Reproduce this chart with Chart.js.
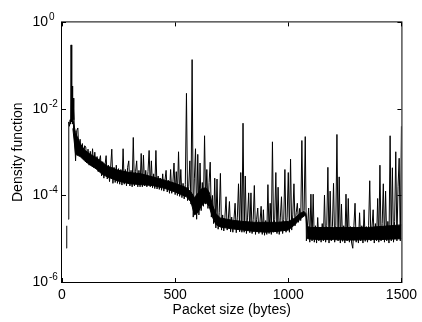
<!DOCTYPE html>
<html>
<head>
<meta charset="utf-8">
<script src="https://cdn.jsdelivr.net/npm/chart.js@4.4.1/dist/chart.umd.min.js"></script>
<style>
    html, body { margin: 0; padding: 0; background: #fff; }
    #wrap { width: 422px; height: 322px; }
</style>
</head>
<body>
<div id="wrap"><canvas id="densityChart"></canvas></div>
<script>
// packet sizes (bytes): hand-read points at the start, then every 5 bytes
const sizeHead = [20, 21, 24, 28, 30, 33, 36, 38, 40, 43, 45, 47, 49, 51, 53];
const sizeStep = 5;
const sizeFirst = 55;
const sizeLast = 1500;

// log10 of the density (null = empty bin)
const densityLog = [
    -5.22, -4.7, null, -4.55, -2.3, -2.4, -2.25, -2.35, -0.52, -2.3, -1.47, -2.35, -1.75, -2.25, -2.0,
    // 55 - 100
    -2.55, -3.2, -2.5, -2.44, -3.05, -2.7, -3.1, -2.8, -3.15, -2.85,
    -2.88, -3.25, -2.93, -3.3, -2.98, -3.3, -2.92, -3.35, -3.0, -3.38,
    -3.1, -3.45, -3.2, -3.08, -3.55, -3.22, -3.6, -3.3, -3.08, -3.62,
    -3.3, -3.68, -3.35, -2.93, -3.72, -3.35, -3.7, -3.3, -3.72, -3.38,
    -3.74, -3.4, -3.76, -2.92, -3.74, -3.4, -3.78, -3.35, -3.2, -3.78,
    // 305 - 350
    -3.42, -3.8, -2.66, -3.78, -3.45, -3.2, -3.8, -3.42, -3.8, -3.03,
    -3.8, -3.07, -3.78, -3.42, -3.8, -3.45, -2.96, -3.8, -3.2, -3.82,
    -3.5, -3.84, -2.96, -3.85, -3.55, -3.86, -3.6, -3.88, -3.5, -3.9,
    -3.65, -3.42, -3.92, -3.65, -3.95, -3.4, -3.95, -3.7, -3.25, -3.98,
    -3.45, -4.0, -2.99, -4.02, -3.4, -4.05, -3.72, -4.08, -3.75, -1.64,
    // 555 - 600
    -4.12, -3.8, -3.2, -4.2, -0.86, -4.5, -3.6, -2.92, -4.55, -3.05,
    -4.45, -3.25, -4.35, -3.7, -4.25, -2.62, -4.2, -3.4, -4.3, -3.7,
    -3.23, -4.5, -4.0, -4.65, -3.6, -4.75, -3.62, -4.78, -4.4, -3.49,
    -4.8, -4.45, -4.82, -4.5, -4.03, -4.8, -4.55, -4.14, -4.84, -4.5,
    -4.85, -4.55, -4.18, -4.86, -4.5, -3.73, -4.84, -3.47, -4.85, -2.33,
    // 805 - 850
    -4.85, -3.55, -4.88, -4.5, -3.94, -4.86, -3.94, -4.88, -4.55, -3.77,
    -4.9, -4.55, -4.29, -4.88, -4.6, -4.25, -4.9, -4.33, -4.92, -4.58,
    -4.9, -3.75, -4.88, -4.18, -4.9, -2.76, -4.85, -4.55, -3.47, -4.88,
    -3.81, -4.9, -4.5, -4.03, -4.88, -4.55, -3.4, -4.85, -4.5, -3.47,
    -4.85, -3.16, -4.8, -4.45, -3.73, -4.7, -4.4, -4.18, -4.62, -4.3,
    // 1055 - 1100
    -4.58, -2.73, -4.5, -4.35, -2.64, -5.05, -4.7, -4.29, -5.08, -3.97,
    -5.05, -3.97, -5.08, -4.7, -5.1, -4.51, -5.05, -4.75, -5.08, -4.65,
    -5.05, -3.99, -5.08, -4.7, -3.35, -5.1, -3.9, -5.05, -4.72, -3.72,
    -5.08, -4.7, -2.59, -5.05, -3.57, -5.1, -4.2, -5.06, -4.7, -5.1,
    -3.97, -5.05, -4.07, -5.08, -4.72, -5.1, -5.22, -4.7, -4.18, -5.08,
    // 1305 - 1350
    -4.75, -5.1, -4.4, -5.05, -4.7, -5.1, -4.33, -5.06, -4.72, -5.08,
    -4.7, -3.66, -5.05, -4.72, -4.33, -5.1, -4.65, -5.05, -4.07, -5.08,
    -3.3, -5.05, -4.65, -3.73, -5.08, -3.9, -5.05, -4.6, -5.1, -2.62,
    -5.05, -3.36, -5.08, -4.6, -2.99, -5.05, -3.8, -3.14, -5.05, -2.4
];

// the dense noise band under the spikes (log10, top and bottom edge)
const bandSizes = [48, 60, 80, 100, 125, 150, 175, 200, 250, 300, 350, 400, 450, 500, 550, 570, 585,
    600, 615, 635, 650, 665, 680, 700, 750, 800, 850, 900, 950, 1000, 1030, 1050, 1070, 1078,
    1085, 1100, 1150, 1200, 1250, 1300, 1350, 1400, 1450, 1500];
const bandTopLog = [-2.25, -2.55, -2.8, -2.95, -3.05, -3.12, -3.22, -3.32, -3.42, -3.47, -3.5, -3.57, -3.64, -3.72, -3.82, -3.92, -4.05,
    -3.95, -3.85, -3.82, -3.92, -4.22, -4.42, -4.52, -4.57, -4.6, -4.62, -4.62, -4.62, -4.6, -4.52, -4.42, -4.37, -4.42,
    -4.72, -4.74, -4.74, -4.74, -4.74, -4.74, -4.74, -4.72, -4.7, -4.68];
const bandBottomLog = [-2.45, -3.05, -3.1, -3.2, -3.3, -3.38, -3.5, -3.57, -3.67, -3.73, -3.75, -3.77, -3.83, -3.92, -4.03, -4.15, -4.45,
    -4.4, -4.25, -4.15, -4.25, -4.5, -4.67, -4.73, -4.77, -4.8, -4.83, -4.85, -4.83, -4.8, -4.67, -4.56, -4.47, -4.47,
    -5.0, -5.01, -5.02, -5.02, -5.03, -5.03, -5.02, -5.02, -5.01, -5.0];

const xTicks = [0, 500, 1000, 1500];
const yTickExps = [0, -2, -4, -6];

const FONT = "'Liberation Sans', Arial, Helvetica, sans-serif";

// x grid of the sampled sizes
const sizes = sizeHead.slice();
for (let s = sizeFirst; s <= sizeLast; s += sizeStep) sizes.push(s);
if (sizes.length !== densityLog.length) {
    console.warn('sizes/density length mismatch', sizes.length, densityLog.length);
}

function toPoints(xs, logs) {
    return xs.map((s, i) => ({
        x: s,
        y: logs[i] === null || logs[i] === undefined ? null : Math.pow(10, logs[i])
    }));
}

/**
 * 边框、内侧刻度和指数上标
 */
const framePlugin = {
    id: 'frame',
    afterDraw(chart) {
        const { ctx, chartArea: a, scales } = chart;
        const tick = 4;
        ctx.save();
        ctx.strokeStyle = '#000';
        ctx.lineWidth = 1;
        ctx.strokeRect(a.left - 0.5, a.top - 0.5, a.right - a.left + 1, a.bottom - a.top + 1);

        ctx.beginPath();
        xTicks.forEach(v => {
            const px = Math.round(scales.x.getPixelForValue(v)) + 0.5;
            ctx.moveTo(px, a.bottom);
            ctx.lineTo(px, a.bottom - tick);
            ctx.moveTo(px, a.top);
            ctx.lineTo(px, a.top + tick);
        });
        yTickExps.forEach(e => {
            const py = Math.round(scales.y.getPixelForValue(Math.pow(10, e))) + 0.5;
            ctx.moveTo(a.left, py);
            ctx.lineTo(a.left + tick, py);
            ctx.moveTo(a.right, py);
            ctx.lineTo(a.right - tick, py);
        });
        ctx.stroke();

        // 指数
        ctx.fillStyle = '#000';
        ctx.font = '10px ' + FONT;
        ctx.textAlign = 'left';
        ctx.textBaseline = 'alphabetic';
        yTickExps.forEach(e => {
            const py = scales.y.getPixelForValue(Math.pow(10, e));
            ctx.fillText(String(e), 49, py - 2);
        });
        ctx.restore();
    }
};

new Chart(document.getElementById('densityChart'), {
    type: 'line',
    data: {
        datasets: [{
            data: toPoints(sizes, densityLog),
            borderColor: '#000',
            borderWidth: 1,
            pointRadius: 0,
            tension: 0,
            spanGaps: false,
            fill: false
        }, {
            data: toPoints(bandSizes, bandTopLog),
            borderColor: '#000',
            borderWidth: 1,
            backgroundColor: '#000',
            pointRadius: 0,
            tension: 0,
            fill: '+1'
        }, {
            data: toPoints(bandSizes, bandBottomLog),
            borderColor: '#000',
            borderWidth: 1,
            pointRadius: 0,
            tension: 0,
            fill: false
        }]
    },
    options: {
        responsive: true,
        maintainAspectRatio: false,
        animation: false,
        layout: {
            padding: { left: 0, right: 17, top: 12, bottom: 0 }
        },
        plugins: {
            legend: { display: false },
            tooltip: { enabled: false }
        },
        scales: {
            x: {
                type: 'linear',
                min: 0,
                max: 1500,
                afterBuildTicks: scale => {
                    scale.ticks = xTicks.map(v => ({ value: v }));
                },
                afterFit: scale => { scale.height = 40; },
                grid: { display: false, drawTicks: false },
                border: { display: false },
                ticks: {
                    color: '#000',
                    font: { family: FONT, size: 14 },
                    padding: 5,
                    maxRotation: 0,
                    autoSkip: false,
                    callback: v => String(v)
                },
                title: {
                    display: true,
                    text: 'Packet size (bytes)',
                    color: '#000',
                    font: { family: FONT, size: 14 },
                    padding: { top: 0, bottom: 3 }
                }
            },
            y: {
                type: 'logarithmic',
                min: 1e-6,
                max: 1,
                afterBuildTicks: scale => {
                    scale.ticks = yTickExps.map(e => ({ value: Math.pow(10, e) }));
                },
                afterFit: scale => { scale.width = 62; },
                grid: { display: false, drawTicks: false },
                border: { display: false },
                ticks: {
                    color: '#000',
                    font: { family: FONT, size: 14 },
                    padding: 14,
                    autoSkip: false,
                    callback: () => '10'
                },
                title: {
                    display: true,
                    text: 'Density function',
                    color: '#000',
                    font: { family: FONT, size: 14 },
                    padding: { top: 10, bottom: 0 }
                }
            }
        }
    },
    plugins: [framePlugin]
});
</script>
</body>
</html>
